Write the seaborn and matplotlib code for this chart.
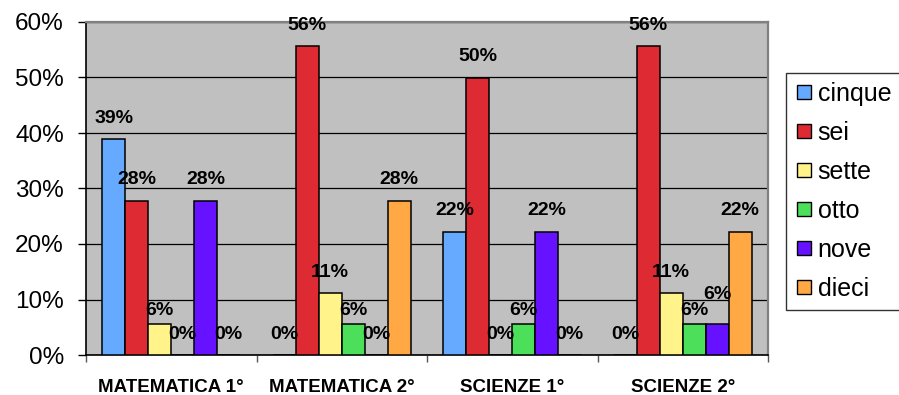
import numpy as np
import pandas as pd
import matplotlib
matplotlib.use("Agg")
import matplotlib.pyplot as plt
from matplotlib.lines import Line2D
from matplotlib.ticker import MultipleLocator, FuncFormatter, FixedLocator
import seaborn as sns

# categorie e valori
materie = ["MATEMATICA 1°", "MATEMATICA 2°", "SCIENZE 1°", "SCIENZE 2°"]
voti = ["cinque", "sei", "sette", "otto", "nove", "dieci"]
cinque = [0.389, 0.0, 0.222, 0.0]
sei = [0.278, 0.556, 0.500, 0.556]
sette = [0.056, 0.111, 0.0, 0.111]
otto = [0.0, 0.056, 0.056, 0.056]
nove = [0.278, 0.0, 0.222, 0.056]
dieci = [0.0, 0.278, 0.0, 0.222]
colori = ["#66AAFF", "#DD2A33", "#FFF38A", "#4CE05A", "#6611FF", "#FFA844"]

serie = [cinque, sei, sette, otto, nove, dieci]
rows = []
for voto, vals in zip(voti, serie):
    for materia, v in zip(materie, vals):
        rows.append({"materia": materia, "voto": voto, "valore": v})
df = pd.DataFrame(rows)

sns.set_style("white")
plt.rcParams['font.family'] = ['Liberation Sans', 'DejaVu Sans']
plt.rcParams['text.color'] = 'black'
plt.rcParams['xtick.color'] = 'black'
plt.rcParams['ytick.color'] = 'black'

fig = plt.figure(figsize=(8.99, 3.95), dpi=100)
ax = fig.add_axes([86 / 899, 1 - 355 / 395, (768 - 86) / 899, (355 - 22) / 395])
ax.set_facecolor("#C0C0C0")

sns.barplot(data=df, x="materia", y="valore", hue="voto", hue_order=voti,
            order=materie, palette=colori, width=0.81, gap=0, errorbar=None,
            edgecolor="black", linewidth=1.1, saturation=1, legend=False,
            ax=ax, zorder=3)

# etichette dati: centro ~21 px sopra la barra; le piccole (6%) piu' basse come in Excel
for voto, cont in zip(voti, ax.containers):
    for materia, b in zip(materie, cont):
        h = b.get_height()
        off = 15
        if round(h * 100) == 6:
            off = 9.5
        if (materia, voto) == ("SCIENZE 2°", "nove"):
            off = 21
        ax.annotate(f"{round(h * 100):.0f}%",
                    (b.get_x() + b.get_width() / 2, h),
                    xytext=(0, off), textcoords="offset points",
                    ha="center", va="center", fontsize=14,
                    fontweight="bold", zorder=5)

ax.set_ylim(0, 0.6)
ax.set_xlim(-0.5, 3.5)
ax.yaxis.set_major_locator(MultipleLocator(0.1))
ax.yaxis.set_major_formatter(FuncFormatter(lambda v, p: f"{v * 100:.0f}%"))
ax.grid(axis="y", color="black", linewidth=0.9, zorder=0)
ax.set_axisbelow(True)
ax.set_xlabel("")
ax.set_ylabel("")

ax.tick_params(axis="y", which="major", direction="out", length=6, width=1,
               color="black", pad=10, labelsize=17.5, left=True)
ax.tick_params(axis="x", which="major", length=0, pad=17, labelsize=13.5)
ax.xaxis.set_minor_locator(FixedLocator([-0.5, 0.5, 1.5, 2.5, 3.5]))
ax.tick_params(axis="x", which="minor", direction="out", length=5, width=1,
               color="#555555", bottom=True)
for t in ax.get_xticklabels():
    t.set_fontweight("bold")

for side in ["left", "bottom"]:
    ax.spines[side].set_color("black")
    ax.spines[side].set_linewidth(1.2)
for side in ["top", "right"]:
    ax.spines[side].set_color("#808080")
    ax.spines[side].set_linewidth(1.6)

handles = [Line2D([0], [0], marker="s", linestyle="none", markersize=10,
                  markerfacecolor=c, markeredgecolor="black", markeredgewidth=1)
           for c in colori]
leg = fig.legend(handles, voti, loc="upper left",
                 bbox_to_anchor=(786 / 899, 1 - 73 / 395), borderaxespad=0,
                 fontsize=18, frameon=True, fancybox=False, labelspacing=0.6,
                 handlelength=0.7, handletextpad=0.22, borderpad=0.35)
leg.get_frame().set_edgecolor("black")
leg.get_frame().set_linewidth(1)

fig.savefig("out.png", dpi=100)
